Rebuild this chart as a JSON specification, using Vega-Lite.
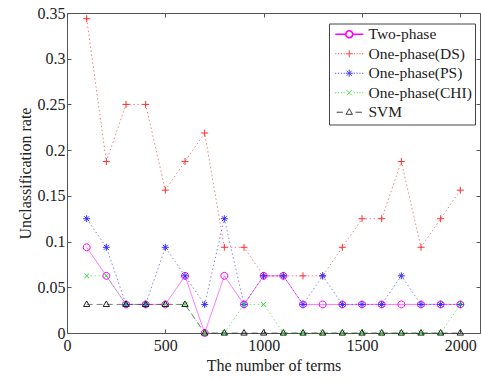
{
  "$schema": "https://vega.github.io/schema/vega-lite/v6.json",
  "width": 413,
  "height": 320,
  "autosize": "none",
  "padding": {"left": 67, "top": 13, "right": 1, "bottom": 47},
  "background": "white",
  "config": {
    "view": {"stroke": null},
    "font": "Liberation Serif",
    "axis": {
      "grid": false,
      "domainColor": "#555555",
      "tickColor": "#555555",
      "tickSize": -4,
      "labelFont": "Liberation Serif",
      "labelFontSize": 16,
      "labelColor": "#222222",
      "titleFont": "Liberation Serif",
      "titleFontSize": 16,
      "titleFontWeight": "normal",
      "titleColor": "#222222"
    }
  },
  "data": {
    "values": [
      {"terms": 100, "series": "Two-phase", "rate": 0.09375},
      {"terms": 200, "series": "Two-phase", "rate": 0.0625},
      {"terms": 300, "series": "Two-phase", "rate": 0.03125},
      {"terms": 400, "series": "Two-phase", "rate": 0.03125},
      {"terms": 500, "series": "Two-phase", "rate": 0.03125},
      {"terms": 600, "series": "Two-phase", "rate": 0.0625},
      {"terms": 700, "series": "Two-phase", "rate": 0},
      {"terms": 800, "series": "Two-phase", "rate": 0.0625},
      {"terms": 900, "series": "Two-phase", "rate": 0.03125},
      {"terms": 1000, "series": "Two-phase", "rate": 0.0625},
      {"terms": 1100, "series": "Two-phase", "rate": 0.0625},
      {"terms": 1200, "series": "Two-phase", "rate": 0.03125},
      {"terms": 1300, "series": "Two-phase", "rate": 0.03125},
      {"terms": 1400, "series": "Two-phase", "rate": 0.03125},
      {"terms": 1500, "series": "Two-phase", "rate": 0.03125},
      {"terms": 1600, "series": "Two-phase", "rate": 0.03125},
      {"terms": 1700, "series": "Two-phase", "rate": 0.03125},
      {"terms": 1800, "series": "Two-phase", "rate": 0.03125},
      {"terms": 1900, "series": "Two-phase", "rate": 0.03125},
      {"terms": 2000, "series": "Two-phase", "rate": 0.03125},
      {"terms": 100, "series": "One-phase(DS)", "rate": 0.34375},
      {"terms": 200, "series": "One-phase(DS)", "rate": 0.1875},
      {"terms": 300, "series": "One-phase(DS)", "rate": 0.25},
      {"terms": 400, "series": "One-phase(DS)", "rate": 0.25},
      {"terms": 500, "series": "One-phase(DS)", "rate": 0.15625},
      {"terms": 600, "series": "One-phase(DS)", "rate": 0.1875},
      {"terms": 700, "series": "One-phase(DS)", "rate": 0.21875},
      {"terms": 800, "series": "One-phase(DS)", "rate": 0.09375},
      {"terms": 900, "series": "One-phase(DS)", "rate": 0.09375},
      {"terms": 1000, "series": "One-phase(DS)", "rate": 0.0625},
      {"terms": 1100, "series": "One-phase(DS)", "rate": 0.0625},
      {"terms": 1200, "series": "One-phase(DS)", "rate": 0.0625},
      {"terms": 1300, "series": "One-phase(DS)", "rate": 0.0625},
      {"terms": 1400, "series": "One-phase(DS)", "rate": 0.09375},
      {"terms": 1500, "series": "One-phase(DS)", "rate": 0.125},
      {"terms": 1600, "series": "One-phase(DS)", "rate": 0.125},
      {"terms": 1700, "series": "One-phase(DS)", "rate": 0.1875},
      {"terms": 1800, "series": "One-phase(DS)", "rate": 0.09375},
      {"terms": 1900, "series": "One-phase(DS)", "rate": 0.125},
      {"terms": 2000, "series": "One-phase(DS)", "rate": 0.15625},
      {"terms": 100, "series": "One-phase(PS)", "rate": 0.125},
      {"terms": 200, "series": "One-phase(PS)", "rate": 0.09375},
      {"terms": 300, "series": "One-phase(PS)", "rate": 0.03125},
      {"terms": 400, "series": "One-phase(PS)", "rate": 0.03125},
      {"terms": 500, "series": "One-phase(PS)", "rate": 0.09375},
      {"terms": 600, "series": "One-phase(PS)", "rate": 0.0625},
      {"terms": 700, "series": "One-phase(PS)", "rate": 0.03125},
      {"terms": 800, "series": "One-phase(PS)", "rate": 0.125},
      {"terms": 900, "series": "One-phase(PS)", "rate": 0.03125},
      {"terms": 1000, "series": "One-phase(PS)", "rate": 0.0625},
      {"terms": 1100, "series": "One-phase(PS)", "rate": 0.0625},
      {"terms": 1200, "series": "One-phase(PS)", "rate": 0.03125},
      {"terms": 1300, "series": "One-phase(PS)", "rate": 0.0625},
      {"terms": 1400, "series": "One-phase(PS)", "rate": 0.03125},
      {"terms": 1500, "series": "One-phase(PS)", "rate": 0.03125},
      {"terms": 1600, "series": "One-phase(PS)", "rate": 0.03125},
      {"terms": 1700, "series": "One-phase(PS)", "rate": 0.0625},
      {"terms": 1800, "series": "One-phase(PS)", "rate": 0.03125},
      {"terms": 1900, "series": "One-phase(PS)", "rate": 0.03125},
      {"terms": 2000, "series": "One-phase(PS)", "rate": 0.03125},
      {"terms": 100, "series": "One-phase(CHI)", "rate": 0.0625},
      {"terms": 200, "series": "One-phase(CHI)", "rate": 0.0625},
      {"terms": 300, "series": "One-phase(CHI)", "rate": 0.03125},
      {"terms": 400, "series": "One-phase(CHI)", "rate": 0.03125},
      {"terms": 500, "series": "One-phase(CHI)", "rate": 0.03125},
      {"terms": 600, "series": "One-phase(CHI)", "rate": 0.03125},
      {"terms": 700, "series": "One-phase(CHI)", "rate": 0},
      {"terms": 800, "series": "One-phase(CHI)", "rate": 0},
      {"terms": 900, "series": "One-phase(CHI)", "rate": 0.03125},
      {"terms": 1000, "series": "One-phase(CHI)", "rate": 0.03125},
      {"terms": 1100, "series": "One-phase(CHI)", "rate": 0},
      {"terms": 1200, "series": "One-phase(CHI)", "rate": 0},
      {"terms": 1300, "series": "One-phase(CHI)", "rate": 0},
      {"terms": 1400, "series": "One-phase(CHI)", "rate": 0},
      {"terms": 1500, "series": "One-phase(CHI)", "rate": 0},
      {"terms": 1600, "series": "One-phase(CHI)", "rate": 0},
      {"terms": 1700, "series": "One-phase(CHI)", "rate": 0},
      {"terms": 1800, "series": "One-phase(CHI)", "rate": 0},
      {"terms": 1900, "series": "One-phase(CHI)", "rate": 0},
      {"terms": 2000, "series": "One-phase(CHI)", "rate": 0.03125},
      {"terms": 100, "series": "SVM", "rate": 0.03125},
      {"terms": 200, "series": "SVM", "rate": 0.03125},
      {"terms": 300, "series": "SVM", "rate": 0.03125},
      {"terms": 400, "series": "SVM", "rate": 0.03125},
      {"terms": 500, "series": "SVM", "rate": 0.03125},
      {"terms": 600, "series": "SVM", "rate": 0.03125},
      {"terms": 700, "series": "SVM", "rate": 0},
      {"terms": 800, "series": "SVM", "rate": 0},
      {"terms": 900, "series": "SVM", "rate": 0},
      {"terms": 1000, "series": "SVM", "rate": 0},
      {"terms": 1100, "series": "SVM", "rate": 0},
      {"terms": 1200, "series": "SVM", "rate": 0},
      {"terms": 1300, "series": "SVM", "rate": 0},
      {"terms": 1400, "series": "SVM", "rate": 0},
      {"terms": 1500, "series": "SVM", "rate": 0},
      {"terms": 1600, "series": "SVM", "rate": 0},
      {"terms": 1700, "series": "SVM", "rate": 0},
      {"terms": 1800, "series": "SVM", "rate": 0},
      {"terms": 1900, "series": "SVM", "rate": 0},
      {"terms": 2000, "series": "SVM", "rate": 0}
    ]
  },
  "resolve": {"axis": {"x": "independent", "y": "independent"}},
  "layer": [
    {
      "mark": {"type": "line", "strokeCap": "butt"},
      "encoding": {
        "x": {"field": "terms", "type": "quantitative",
          "scale": {"domain": [0, 2100], "nice": false, "zero": false},
          "axis": {"orient": "bottom", "values": [0, 500, 1000, 1500, 2000], "format": "d", "title": "The number of terms", "labelFont": "Liberation Serif", "labelFontSize": 16, "labelPadding": 8, "titlePadding": 4, "labelFlush": false}},
        "y": {"field": "rate", "type": "quantitative",
          "scale": {"domain": [0, 0.35], "nice": false},
          "axis": {"orient": "left", "values": [0, 0.05, 0.1, 0.15, 0.2, 0.25, 0.3, 0.35], "format": "~g", "title": "Unclassification rate", "labelFont": "Liberation Serif", "labelFontSize": 16, "labelPadding": 6, "titlePadding": 4, "labelFlush": false}},
        "color": {"field": "series", "type": "nominal",
          "scale": {"domain": ["Two-phase", "One-phase(DS)", "One-phase(PS)", "One-phase(CHI)", "SVM"],
                    "range": ["#ff00ff", "#ff3030", "#3030ff", "#30e030", "#222222"]},
          "legend": {
            "orient": "none", "legendX": 262, "legendY": 10.5, "title": null,
            "padding": 3, "rowPadding": 2.5, "strokeColor": "#444444", "fillColor": "white",
            "labelFont": "Liberation Serif", "labelFontSize": 15.5, "labelColor": "#222222",
            "symbolSize": 49, "symbolOffset": 9.5, "labelOffset": 11.5,
            "encode": {
              "symbols": {"update": {
                "shape": {"signal": "datum.value === 'Two-phase' ? 'M-4,0H-1M1,0H4M1,0L0.866,0.5L0.5,0.866L0,1L-0.5,0.866L-0.866,0.5L-1,0L-0.866,-0.5L-0.5,-0.866L0,-1L0.5,-0.866L0.866,-0.5Z' : datum.value === 'One-phase(DS)' ? 'M-4,0H-3.7M-3.2,0H-2.9M-2.4,0H-2.1M-1.6,0H-1.3M1.3,0H1.6M2.1,0H2.4M2.9,0H3.2M3.7,0H4M-1,0H1M0,-1V1' : datum.value === 'One-phase(PS)' ? 'M-4,0H-3.7M-3.2,0H-2.9M-2.4,0H-2.1M-1.6,0H-1.3M1.3,0H1.6M2.1,0H2.4M2.9,0H3.2M3.7,0H4M-1,0H1M0,-1V1M-0.7,-0.7L0.7,0.7M-0.7,0.7L0.7,-0.7' : datum.value === 'One-phase(CHI)' ? 'M-4,0H-3.7M-3.2,0H-2.9M-2.4,0H-2.1M-1.6,0H-1.3M1.3,0H1.6M2.1,0H2.4M2.9,0H3.2M3.7,0H4M-0.7,-0.7L0.7,0.7M-0.7,0.7L0.7,-0.7' : 'M-3.6,0H-1.8M1.8,0H3.6M0,-1L0.9,0.6L-0.9,0.6Z'"},
                "fill": {"value": "transparent"},
                "strokeWidth": {"signal": "datum.value === 'Two-phase' ? 1.6 : 1"},
                "strokeDash": {"value": [1, 0]},
                "opacity": {"value": 1}
              }}
            }
          }},
        "strokeDash": {"field": "series", "type": "nominal",
          "scale": {"range": [[1.5, 2.5], [1.5, 2.5], [1.5, 2.5], [6, 4], [1, 0]]},
          "legend": null},
        "strokeWidth": {"field": "series", "type": "nominal",
          "scale": {"range": [1, 1, 1, 1, 1.8]},
          "legend": null},
        "opacity": {"field": "series", "type": "nominal",
          "scale": {"range": [0.65, 0.55, 0.55, 0.9, 1]},
          "legend": null}
      }
    },
    {
      "mark": {"type": "point", "filled": false, "size": 49, "strokeWidth": 1, "opacity": 1},
      "encoding": {
        "x": {"field": "terms", "type": "quantitative", "axis": null},
        "y": {"field": "rate", "type": "quantitative", "axis": null},
        "color": {"field": "series", "type": "nominal"},
        "shape": {"field": "series", "type": "nominal",
          "scale": {"range": [
                      "M-0.7,-0.7L0.7,0.7M-0.7,0.7L0.7,-0.7",
                      "M-1,0H1M0,-1V1",
                      "M-1,0H1M0,-1V1M-0.7,-0.7L0.7,0.7M-0.7,0.7L0.7,-0.7",
                      "M0,-1L0.9,0.6L-0.9,0.6Z",
                      "M1,0L0.866,0.5L0.5,0.866L0,1L-0.5,0.866L-0.866,0.5L-1,0L-0.866,-0.5L-0.5,-0.866L0,-1L0.5,-0.866L0.866,-0.5Z"
                    ]},
          "legend": null}
      }
    },
    {
      "mark": {"type": "point", "opacity": 0},
      "encoding": {
        "x": {"field": "terms", "type": "quantitative",
          "axis": {"orient": "top", "values": [0, 500, 1000, 1500, 2000], "labels": false, "title": null}},
        "y": {"field": "rate", "type": "quantitative",
          "axis": {"orient": "right", "values": [0, 0.05, 0.1, 0.15, 0.2, 0.25, 0.3, 0.35], "labels": false, "title": null}}
      }
    }
  ]
}
